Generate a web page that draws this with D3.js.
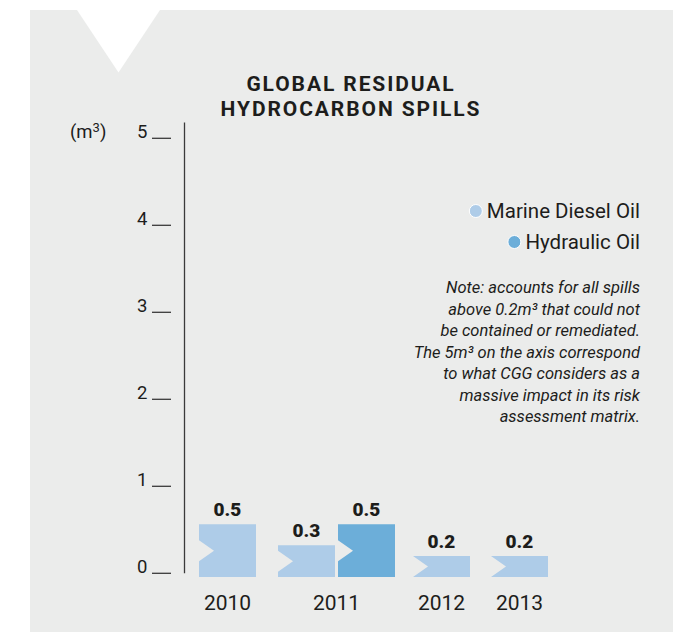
<!DOCTYPE html>
<html>
<head>
<meta charset="utf-8">
<script src="https://cdn.jsdelivr.net/npm/d3@7"></script>
<style>
  html, body { margin: 0; padding: 0; background: #ffffff; }
  svg { display: block; }
  text { font-family: Roboto, "DejaVu Sans", sans-serif; fill: #1d1d1b; }
</style>
</head>
<body>
<svg id="chart" width="694" height="632"></svg>
<script>
// Spill volumes (m³) per year and oil type
const years = ["2010", "2011", "2012", "2013"];
const seriesNames = ["Marine Diesel Oil", "Hydraulic Oil"];
const seriesColors = ["#aecce8", "#6caed9"];
const bars = [
  { year: "2010", series: 0, value: 0.5 },
  { year: "2011", series: 0, value: 0.3 },
  { year: "2011", series: 1, value: 0.5 },
  { year: "2012", series: 0, value: 0.2 },
  { year: "2013", series: 0, value: 0.2 }
];
const tickValues = [0, 1, 2, 3, 4, 5];
const titleLines = ["GLOBAL RESIDUAL", "HYDROCARBON SPILLS"];
const noteLines = [
  "Note: accounts for all spills",
  "above 0.2m³ that could not",
  "be contained or remediated.",
  "The 5m³ on the axis correspond",
  "to what CGG considers as a",
  "massive impact in its risk",
  "assessment matrix."
];

const svg = d3.select("#chart");
const bg = "#ebeceb";

// Panel with the white notch at the top
svg.append("rect").attr("x", 30).attr("y", 10).attr("width", 643).attr("height", 622).attr("fill", bg);
svg.append("path").attr("d", "M77,10 L160,10 L118.5,72.5 Z").attr("fill", "#ffffff");

// Title
svg.append("g").selectAll("text").data(titleLines).join("text")
  .attr("x", 351).attr("y", (d, i) => 91 + i * 25)
  .attr("text-anchor", "middle")
  .style("font-size", "21px").style("font-weight", "bold").style("letter-spacing", "1.9px")
  .text(d => d);

// Vertical axis (value scale of the tick labels)
const yAxisScale = d3.scaleLinear().domain([0, 5]).range([573.3, 138.3]);
// Bar heights are drawn at their own vertical scale from the baseline
const yBar = d3.scaleLinear().domain([0, 5]).range([577, 577 - 5 * 105.5]);

const axisG = svg.append("g");
axisG.append("line").attr("x1", 184.5).attr("x2", 184.5)
  .attr("y1", 122.5).attr("y2", yAxisScale(0))
  .attr("stroke", "#3a3a3a").attr("stroke-width", 1.3);

const ticks = axisG.selectAll("g.tick").data(tickValues).join("g").attr("class", "tick")
  .attr("transform", d => `translate(0,${yAxisScale(d)})`);
ticks.append("line").attr("x1", 152).attr("x2", 171).attr("y1", 0).attr("y2", 0)
  .attr("stroke", "#3a3a3a").attr("stroke-width", 1.3);
ticks.append("text").attr("x", 147.5).attr("y", 0).attr("text-anchor", "end")
  .style("font-size", "18.5px").text(d => d);

// Unit label
const unit = svg.append("text").attr("x", 70).attr("y", 138).style("font-size", "18.5px");
unit.append("tspan").text("(m");
unit.append("tspan").attr("dy", -6).style("font-size", "13px").text("3");
unit.append("tspan").attr("dy", 6).text(")");

// Horizontal placement: each year group holds one or two bars
const barWidth = 57;
const barLeft = {
  "2010|0": 199, "2011|0": 278, "2011|1": 338, "2012|0": 413, "2013|0": 491
};
const xPos = d => barLeft[d.year + "|" + d.series];

const barG = svg.append("g").selectAll("g").data(bars).join("g");

// Bar body with a chevron cut into its left edge
barG.append("path")
  .attr("fill", d => seriesColors[d.series])
  .attr("d", d => {
    const x0 = xPos(d), x1 = x0 + barWidth;
    const top = yBar(d.value), bot = yBar(0);
    const mid = (top + bot) / 2;
    const half = Math.min(10.5, (bot - top) / 2);
    const depth = 15;
    return `M${x0},${top} L${x1},${top} L${x1},${bot} L${x0},${bot} L${x0},${mid + half} L${x0 + depth},${mid} L${x0},${mid - half} Z`;
  });

// Value labels
barG.append("text")
  .attr("x", d => xPos(d) + barWidth / 2)
  .attr("y", d => yBar(d.value) - 8)
  .attr("text-anchor", "middle")
  .style("font-size", "19px").style("font-weight", "900")
  .text(d => d.value.toFixed(1));

// Year labels centred under each group
svg.append("g").selectAll("text").data(years).join("text")
  .attr("x", y => {
    const group = bars.filter(b => b.year === y);
    const l = d3.min(group, xPos), r = d3.max(group, b => xPos(b) + barWidth);
    return (l + r) / 2;
  })
  .attr("y", 610)
  .attr("text-anchor", "middle")
  .style("font-size", "21px")
  .text(d => d);

// Legend
const legend = svg.append("g").selectAll("g").data(seriesNames).join("g")
  .attr("transform", (d, i) => `translate(640,${218 + i * 31})`);
legend.append("text").attr("text-anchor", "end").style("font-size", "20.5px").text(d => d);
legend.each(function(d, i) {
  const g = d3.select(this);
  const w = g.select("text").node().getComputedTextLength();
  g.append("circle").attr("cx", -w - 11).attr("cy", -7).attr("r", 6.5)
    .attr("fill", seriesColors[i]).attr("stroke", "#ffffff").attr("stroke-width", 1);
});

// Note
svg.append("g").selectAll("text").data(noteLines).join("text")
  .attr("x", 640).attr("y", (d, i) => 293 + i * 21.5)
  .attr("text-anchor", "end")
  .style("font-size", "16.5px").style("font-style", "italic")
  .text(d => d);
</script>
</body>
</html>
